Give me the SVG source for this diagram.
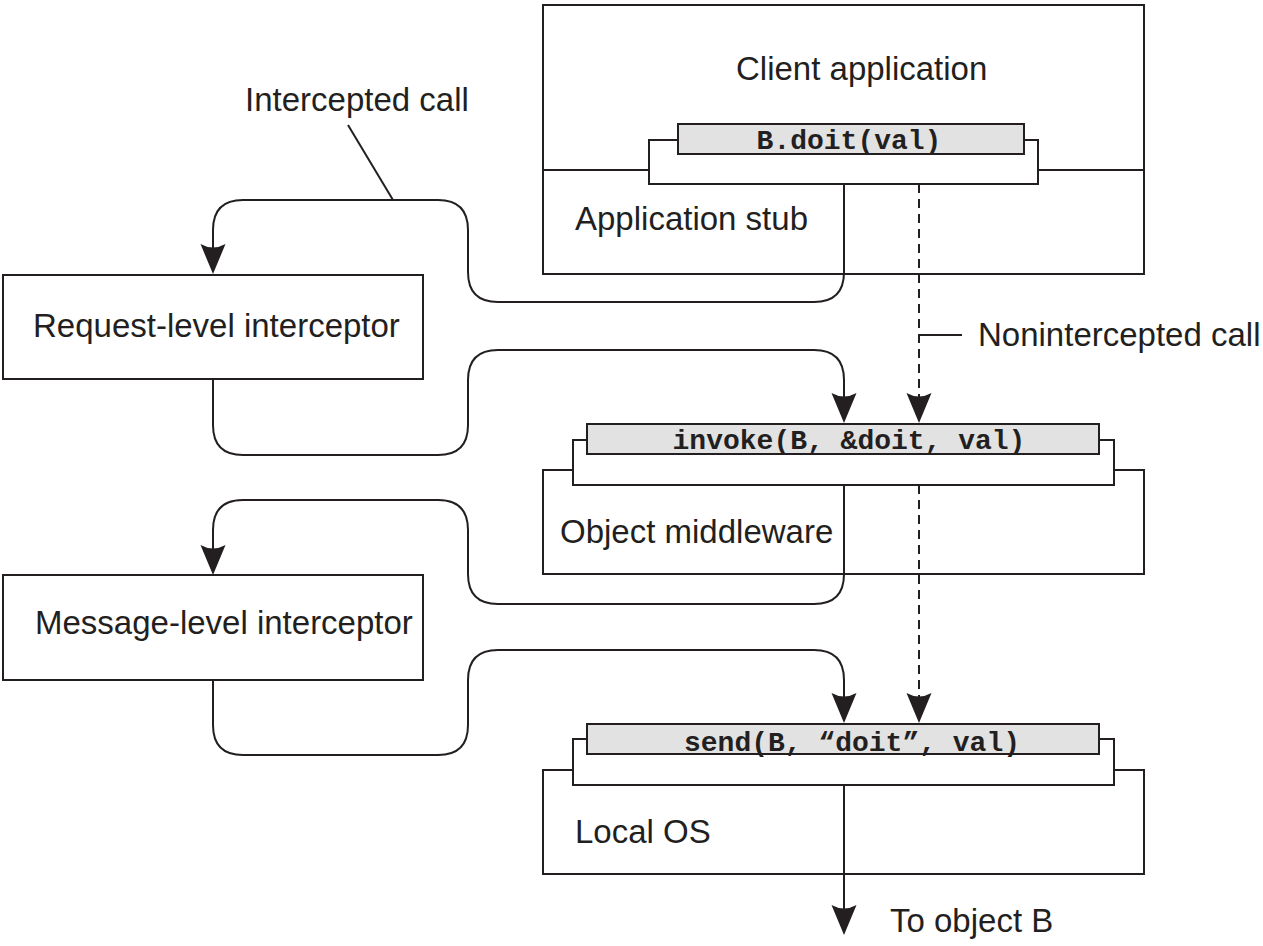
<svg xmlns="http://www.w3.org/2000/svg" width="1263" height="946" viewBox="0 0 1263 946">
<style>
.box{fill:#fff;stroke:#231f20;stroke-width:2}
.grey{fill:#e2e2e2;stroke:#231f20;stroke-width:2}
.ln{fill:none;stroke:#231f20;stroke-width:2}
.dash{fill:none;stroke:#231f20;stroke-width:2;stroke-dasharray:9,6}
.lbl{font-family:"Liberation Sans",Arial,sans-serif;font-size:33px;fill:#231f20}
.code{font-family:"Liberation Mono","Courier New",monospace;font-weight:bold;font-size:28px;fill:#231f20;text-anchor:middle}
</style>
<defs>
<marker id="ah" markerUnits="userSpaceOnUse" markerWidth="30" markerHeight="25" refX="10" refY="12.5" orient="auto" overflow="visible">
<path d="M30,12.5 L0,0 Q7,12.5 0,25 Z" fill="#231f20"/>
</marker>
</defs>
<rect width="1263" height="946" fill="#fff"/>

<g id="client-application">
<rect class="box" x="543" y="5" width="601" height="269"/>
<line class="ln" x1="543" y1="170" x2="649" y2="170"/>
<line class="ln" x1="1038" y1="170" x2="1144" y2="170"/>
<text class="lbl" x="736" y="80">Client application</text>
<text class="lbl" x="575" y="230">Application stub</text>
<rect class="box" x="649" y="140" width="389" height="44"/>
<rect class="grey" x="678" y="124" width="346" height="30"/>
<text class="code" x="849" y="149">B.doit(val)</text>
</g>

<g id="object-middleware">
<rect class="box" x="543" y="470" width="601" height="104"/>
<text class="lbl" x="560" y="543">Object middleware</text>
<rect class="box" x="573" y="440" width="541" height="45"/>
<rect class="grey" x="587" y="424" width="512" height="30"/>
<text class="code" x="849" y="449">invoke(B, &amp;doit, val)</text>
</g>

<g id="local-os">
<rect class="box" x="543" y="770" width="601" height="104"/>
<text class="lbl" x="575" y="843">Local OS</text>
<rect class="box" x="573" y="739" width="541" height="46"/>
<rect class="grey" x="587" y="724" width="512" height="30"/>
<text class="code" x="852" y="751">send(B, “doit”, val)</text>
</g>

<g id="request-level-interceptor">
<rect class="box" x="3" y="275" width="420" height="104"/>
<text class="lbl" x="33" y="337">Request-level interceptor</text>
</g>

<g id="message-level-interceptor">
<rect class="box" x="3" y="575" width="420" height="105"/>
<text class="lbl" x="35" y="634">Message-level interceptor</text>
</g>

<g id="labels">
<text class="lbl" x="245" y="111">Intercepted call</text>
<text class="lbl" x="978" y="346">Nonintercepted call</text>
<text class="lbl" x="890" y="932">To object B</text>
</g>

<g id="connectors">
<path class="ln" marker-end="url(#ah)" d="M844,184 V272 Q844,302 814,302 H498 Q468,302 468,272 V230 Q468,200 438,200 H243 Q213,200 213,230 V254"/>
<path class="ln" marker-end="url(#ah)" d="M213,379 V425 Q213,455 243,455 H438 Q468,455 468,425 V380 Q468,350 498,350 H814 Q844,350 844,380 V403"/>
<path class="ln" marker-end="url(#ah)" d="M844,485 V574 Q844,604 814,604 H498 Q468,604 468,574 V530 Q468,500 438,500 H243 Q213,500 213,530 V555"/>
<path class="ln" marker-end="url(#ah)" d="M213,680 V725 Q213,755 243,755 H438 Q468,755 468,725 V680 Q468,650 498,650 H814 Q844,650 844,680 V703"/>
<path class="ln" marker-end="url(#ah)" d="M844,785 V915"/>
<path class="dash" marker-end="url(#ah)" d="M919,184 V403"/>
<path class="dash" marker-end="url(#ah)" d="M919,485 V703"/>
<line class="ln" x1="348" y1="125" x2="393" y2="200"/>
<line class="ln" x1="920" y1="335" x2="962" y2="335"/>
</g>
</svg>
